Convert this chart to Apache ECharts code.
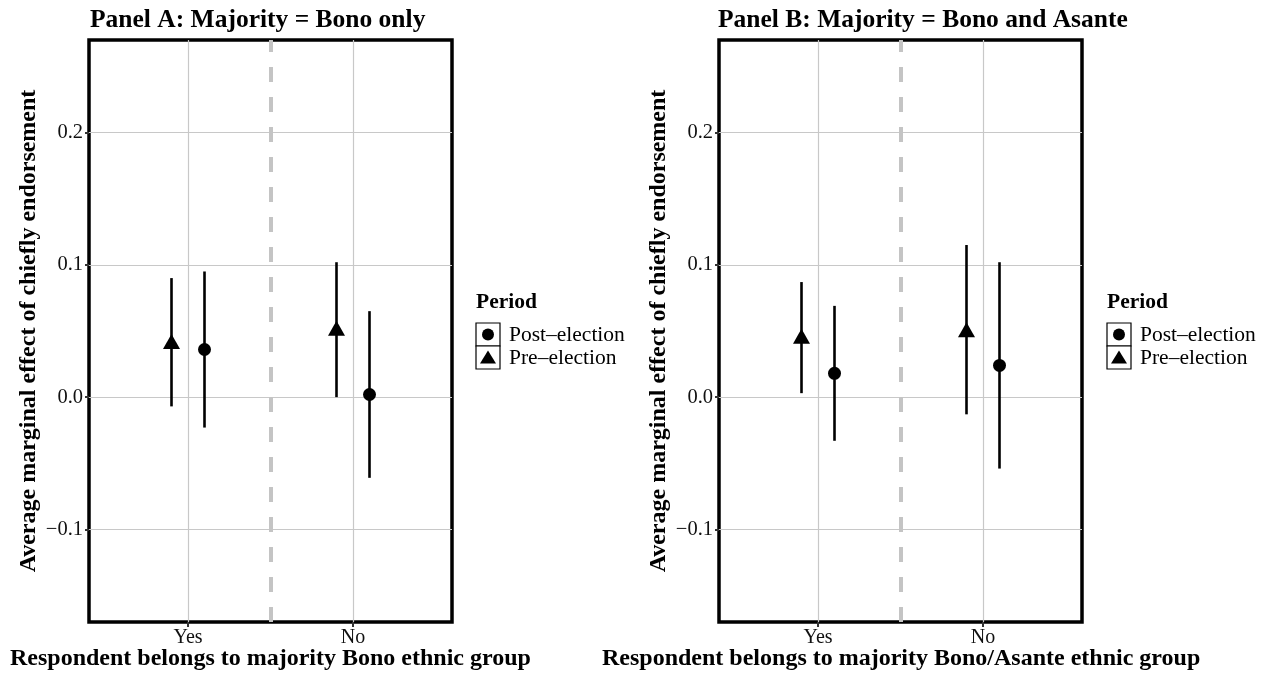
<!DOCTYPE html>
<html>
<head>
<meta charset="utf-8">
<script src="https://cdn.jsdelivr.net/npm/echarts@6/dist/echarts.min.js"></script>
<style>
  html, body { margin: 0; padding: 0; background: #fff; }
  #chart { width: 1270px; height: 675px; }
</style>
</head>
<body>
<div id="chart"></div>
<script>
const categories = ['Yes', 'No'];
const periods = ['Post\u2013election', 'Pre\u2013election'];
const yTicks = [-0.1, 0, 0.1, 0.2];
const panelTitles = ['Panel A: Majority = Bono only', 'Panel B: Majority = Bono and Asante'];
const xTitles = ['Respondent belongs to majority Bono ethnic group',
  'Respondent belongs to majority Bono/Asante ethnic group'];
const yTitle = 'Average marginal effect of chiefly endorsement';

// Panel A
const aPreEst = [0.042, 0.052];
const aPreLo = [-0.007, 0.000];
const aPreHi = [0.090, 0.102];
const aPostEst = [0.036, 0.002];
const aPostLo = [-0.023, -0.061];
const aPostHi = [0.095, 0.065];

// Panel B
const bPreEst = [0.046, 0.051];
const bPreLo = [0.003, -0.013];
const bPreHi = [0.087, 0.115];
const bPostEst = [0.018, 0.024];
const bPostLo = [-0.033, -0.054];
const bPostHi = [0.069, 0.102];

const FONT = 'Liberation Serif';
const dodge = 0.1;

function errorSeries(idx, est, lo, hi, offset) {
  return {
    type: 'custom',
    xAxisIndex: idx, yAxisIndex: idx,
    silent: true,
    data: est.map((v, i) => [i + 1 + offset, lo[i], hi[i]]),
    renderItem: function (params, api) {
      const p1 = api.coord([api.value(0), api.value(1)]);
      const p2 = api.coord([api.value(0), api.value(2)]);
      return {
        type: 'line',
        shape: { x1: p1[0], y1: p1[1], x2: p2[0], y2: p2[1] },
        style: { stroke: '#000', lineWidth: 2.6 }
      };
    },
    z: 3
  };
}

function pointSeries(idx, est, offset, symbol, size) {
  return {
    type: 'scatter',
    xAxisIndex: idx, yAxisIndex: idx,
    symbol: symbol,
    symbolSize: size,
    itemStyle: { color: '#000', opacity: 1 },
    data: est.map((v, i) => [i + 1 + offset, v]),
    z: 4
  };
}

function panelSeries(idx, preEst, preLo, preHi, postEst, postLo, postHi) {
  return [
    {
      type: 'line', xAxisIndex: idx, yAxisIndex: idx, data: [],
      markLine: {
        silent: true, symbol: 'none', label: { show: false },
        lineStyle: { color: '#c4c4c4', width: 4, type: [15, 15] },
        data: [{ xAxis: 1.5 }]
      },
      z: 2
    },
    errorSeries(idx, preEst, preLo, preHi, -dodge),
    errorSeries(idx, postEst, postLo, postHi, dodge),
    pointSeries(idx, postEst, dodge, 'circle', 13),
    pointSeries(idx, preEst, -dodge, 'triangle', [17, 15])
  ];
}

const gridLeft = [89, 719];
const gridWidth = 363;

function xAxis(idx) {
  return {
    gridIndex: idx, type: 'value', min: 0.4, max: 2.6,
    position: 'bottom',
    axisLine: { show: false, onZero: false },
    axisTick: { show: true, customValues: [1, 2], length: 5, lineStyle: { color: '#333', width: 2 } },
    axisLabel: {
      customValues: [1, 2], margin: 6,
      formatter: v => categories[Math.round(v) - 1],
      fontFamily: FONT, fontSize: 20, color: '#111'
    },
    splitLine: { show: true, lineStyle: { color: '#c8c8c8', width: 1.2 } }
  };
}

function yAxis(idx) {
  return {
    gridIndex: idx, type: 'value', min: -0.17, max: 0.27,
    axisLine: { show: false, onZero: false },
    axisTick: { show: true, customValues: yTicks, length: 4, lineStyle: { color: '#333', width: 2 } },
    axisLabel: {
      customValues: yTicks, margin: 6,
      formatter: v => (v < 0 ? '\u2212' + Math.abs(v).toFixed(1) : v.toFixed(1)),
      fontFamily: FONT, fontSize: 20.5, color: '#111'
    },
    splitLine: { show: true, lineStyle: { color: '#c8c8c8', width: 1.2 } },
    name: yTitle,
    nameLocation: 'middle',
    nameRotate: 90,
    nameGap: 48,
    nameTextStyle: { fontFamily: FONT, fontSize: 24, fontWeight: 'bold', color: '#000' }
  };
}

function legendGraphic(x) {
  const top = 323, h = 23, w = 24;
  const cx = x + w / 2;
  const triY = top + h + h / 2;
  return {
    type: 'group',
    children: [
      { type: 'text', left: x, top: 291,
        style: { text: 'Period', fontFamily: FONT, fontSize: 21.5, fontWeight: 'bold', fill: '#000' } },
      { type: 'rect', shape: { x: x, y: top, width: w, height: h },
        style: { fill: '#fff', stroke: '#000', lineWidth: 1.2 } },
      { type: 'rect', shape: { x: x, y: top + h, width: w, height: h },
        style: { fill: '#fff', stroke: '#000', lineWidth: 1.2 } },
      { type: 'circle', shape: { cx: cx, cy: top + h / 2, r: 6 }, style: { fill: '#000' } },
      { type: 'polygon', shape: { points: [[cx, triY - 7], [cx - 8, triY + 6], [cx + 8, triY + 6]] },
        style: { fill: '#000' } },
      { type: 'text', x: x + 33, y: top + h / 2 + 1,
        style: { text: periods[0], fontFamily: FONT, fontSize: 21.5, fill: '#000', verticalAlign: 'middle' } },
      { type: 'text', x: x + 33, y: top + h + h / 2 + 1,
        style: { text: periods[1], fontFamily: FONT, fontSize: 21.5, fill: '#000', verticalAlign: 'middle' } }
    ]
  };
}

const chart = echarts.init(document.getElementById('chart'), null, { renderer: 'canvas' });

const titleStyle = { fontFamily: FONT, fontSize: 25.5, fontWeight: 'bold', color: '#000' };
const xTitleStyle = { fontFamily: FONT, fontSize: 24, fontWeight: 'bold', color: '#000' };

const option = {
  animation: false,
  backgroundColor: '#fff',
  title: [
    { text: panelTitles[0], left: 90, top: 7, padding: 0, textStyle: titleStyle },
    { text: panelTitles[1], left: 718, top: 7, padding: 0, textStyle: titleStyle },
    { text: xTitles[0], left: 10, top: 647, padding: 0, textStyle: xTitleStyle },
    { text: xTitles[1], left: 602, top: 647, padding: 0, textStyle: xTitleStyle }
  ],
  grid: [
    { left: gridLeft[0], top: 40, width: gridWidth, height: 582, show: true,
      borderColor: '#000', borderWidth: 3.5, backgroundColor: 'transparent' },
    { left: gridLeft[1], top: 40, width: gridWidth, height: 582, show: true,
      borderColor: '#000', borderWidth: 3.5, backgroundColor: 'transparent' }
  ],
  xAxis: [xAxis(0), xAxis(1)],
  yAxis: [yAxis(0), yAxis(1)],
  series: [].concat(
    panelSeries(0, aPreEst, aPreLo, aPreHi, aPostEst, aPostLo, aPostHi),
    panelSeries(1, bPreEst, bPreLo, bPreHi, bPostEst, bPostLo, bPostHi)
  ),
  graphic: [legendGraphic(476), legendGraphic(1107)]
};

chart.setOption(option);
</script>
</body>
</html>
